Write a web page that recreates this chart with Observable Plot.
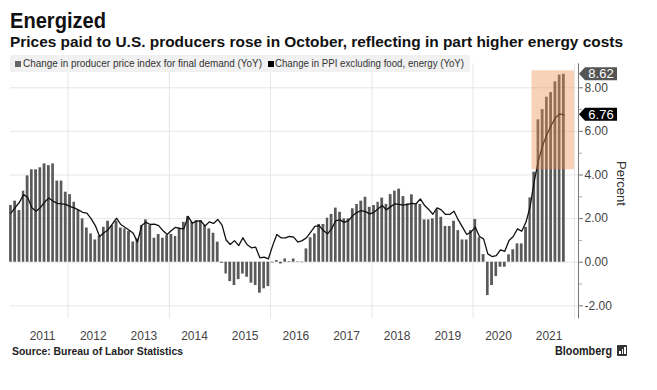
<!DOCTYPE html>
<html>
<head>
<meta charset="utf-8">
<script src="https://cdn.jsdelivr.net/npm/d3@7"></script>
<script src="https://cdn.jsdelivr.net/npm/@observablehq/plot@0.6"></script>
<style>
  body { margin: 0; background: #fff; }
  #wrap { position: relative; width: 657px; height: 390px; overflow: hidden; font-family: "Liberation Sans", Arial, sans-serif; color: #222; }
  #chart { position: absolute; left: 0; top: 0; }
  .t { position: absolute; white-space: nowrap; transform-origin: 0 0; line-height: 1; }
  .sq { position: absolute; width: 6px; height: 6px; }
</style>
</head>
<body>
<div id="wrap">
  <div id="chart"></div>
  <div class="t" id="title" data-w="96" style="left:10px;top:10px;font-weight:bold;font-size:22px;color:#111;">Energized</div>
  <div class="t" id="subtitle" data-w="613" style="left:10px;top:34px;font-weight:bold;font-size:15px;color:#111;">Prices paid to U.S. producers rose in October, reflecting in part higher energy costs</div>
  <div style="position:absolute;left:10px;top:55px;width:460px;height:17px;background:#f1f1f1;"></div>
  <div class="sq" style="left:15px;top:60.5px;background:#666;"></div>
  <div class="t" id="leg1" data-w="239" style="left:23px;top:58px;font-size:11px;color:#333;"></div>
  <div class="sq" style="left:268px;top:60.5px;background:#000;"></div>
  <div class="t" id="leg2" data-w="189" style="left:275px;top:58px;font-size:11px;color:#333;"></div>
  <div class="t" style="left:615px;top:161px;font-size:13px;color:#333;writing-mode:vertical-rl;">Percent</div>
  <div class="t" id="source" data-w="171" style="left:12px;top:345.5px;font-weight:bold;font-size:11px;color:#222;">Source: Bureau of Labor Statistics</div>
  <div class="t" id="bbg" data-w="57" style="left:555px;top:343.5px;font-weight:bold;font-size:13.5px;color:#222;">Bloomberg</div>
  <div style="position:absolute;left:617px;top:345px;width:10px;height:11px;background:#333;border-radius:1px;"></div>
  <div style="position:absolute;left:619px;top:351px;width:1.5px;height:3px;background:#fff;"></div>
  <div style="position:absolute;left:621.5px;top:349px;width:1.5px;height:5px;background:#fff;"></div>
  <div style="position:absolute;left:624px;top:347px;width:1.5px;height:7px;background:#fff;"></div>
</div>
<script>
// ---- Data ----
const seriesNames = ["Change in producer price index for final demand (YoY)", "Change in PPI excluding food, energy (YoY)"];
const firstMonth = "2010-11";   // Nov 2010 .. Oct 2021, monthly
const ppiFinalDemand = [
  2.6, 2.8,
  2.37, 3.26, 3.96, 4.24, 4.24, 4.33, 4.51, 4.43, 4.51, 3.72, 3.72, 3.21,
  3.1, 2.75, 2.37, 1.99, 1.57, 1.3, 1.02, 1.2, 1.6, 1.88, 1.68, 1.88,
  1.57, 1.53, 1.42, 0.93, 1.07, 1.68, 1.94, 1.68, 1.1, 1.27, 1.1, 1.22,
  1.27, 1.18, 1.57, 1.83, 2.1, 1.83, 1.91, 1.91, 1.68, 1.53, 1.33, 0.92,
  -0.05, -0.54, -0.89, -1.07, -0.8, -0.54, -0.69, -0.96, -1.07, -1.42, -1.22, -1.12,
  -0.03, 0.08, -0.08, 0.15, 0.03, 0.15, 0.02, -0.02, 0.61, 1.12, 1.3, 1.73,
  1.73, 2.02, 2.19, 2.48, 2.29, 1.99, 1.99, 2.45, 2.65, 2.8, 2.98, 2.52,
  2.6, 2.75, 2.94, 2.65, 3.1, 3.26, 3.35, 3.01, 2.68, 3.09, 2.65, 2.65,
  1.94, 1.94, 1.99, 2.4, 2.06, 1.64, 1.64, 1.88, 1.45, 1.02, 1.02, 1.45,
  1.96, 1.12, 0.35, -1.53, -1.07, -0.66, -0.23, -0.23, 0.34, 0.57, 0.84, 0.84,
  1.6, 2.95, 4.13, 6.53, 7.0, 7.57, 7.78, 8.27, 8.58, 8.62
];
const ppiCore = [
  2.25, 2.5,
  2.75, 3.1, 2.98, 2.5, 2.34, 2.5, 2.75, 2.95, 2.8, 2.7, 2.68, 2.65,
  2.55, 2.49, 2.4, 2.29, 2.25, 2.0, 1.68, 1.18, 1.35, 1.48, 1.75, 2.02,
  1.73, 1.6, 1.48, 1.33, 0.92, 1.68, 1.83, 1.73, 1.75, 1.68, 1.45, 1.27,
  1.45, 1.6, 1.55, 1.53, 2.1, 1.79, 1.88, 1.9, 1.66, 1.85, 1.78, 1.96,
  1.7, 1.02, 0.81, 0.99, 0.76, 1.12, 0.8, 0.66, 0.69, 0.2, 0.23, 0.15,
  0.76, 1.27, 1.12, 1.12, 1.18, 1.15, 0.92, 0.99, 1.12, 1.38, 1.64, 1.68,
  1.45, 1.3, 1.53, 1.91, 1.94, 1.83, 1.91, 2.14, 2.29, 2.37, 2.32, 2.22,
  2.29, 2.45, 2.6, 2.4, 2.55, 2.68, 2.65, 2.62, 2.65, 2.7, 2.68, 2.9,
  2.6, 2.42, 2.2, 2.49, 2.4, 2.19, 2.19, 2.34, 1.94, 1.61, 1.27, 1.38,
  1.61, 1.18, 1.07, 0.38, 0.26, 0.3, 0.57, 0.5, 1.0, 1.18, 1.53, 1.42,
  1.84, 2.55, 3.7, 4.67, 5.35, 5.86, 6.27, 6.62, 6.8, 6.76
];
const yearLabels = ["2011","2012","2013","2014","2015","2016","2017","2018","2019","2020","2021"];
const gridYears = ["2012","2014","2016","2018","2020","2022"];
const yTicks = [-2, 0, 2, 4, 6, 8];
const yMinorTicks = [-1, 1, 3, 5, 7];
const highlight = {x1: "2021-03-01", x2: "2022-01-01", y1: 4.24, y2: 8.78};

// ---- Build table ----
const start = new Date(firstMonth + "-01T00:00:00Z");
const months = d3.utcMonth.range(start, d3.utcMonth.offset(start, ppiFinalDemand.length));
const data = months.map((m, i) => ({
  start: m,
  end: d3.utcMonth.offset(m, 1),
  mid: new Date((+m + +d3.utcMonth.offset(m, 1)) / 2),
  fd: ppiFinalDemand[i],
  core: ppiCore[i]
}));
const xDomain = [new Date("2010-11-13T00:00:00Z"), new Date("2022-01-30T00:00:00Z")];
const midYears = yearLabels.map(y => new Date(y + "-07-02T00:00:00Z"));
const gridDates = gridYears.map(y => new Date(y + "-01-01T00:00:00Z"));
const last = data[data.length - 1];
const endLabels = [
  {value: last.fd, fill: "#555555"},
  {value: last.core, fill: "#000000"}
];

function endLabelMark(index, scales, values, dimensions) {
  const g = d3.create("svg:g");
  const x0 = dimensions.width - dimensions.marginRight + 1;
  for (const d of endLabels) {
    const y = scales.y(d.value);
    g.append("path")
      .attr("d", `M${x0},${y} L${x0 + 6},${y - 6.5} H${x0 + 38} V${y + 6.5} H${x0 + 6} Z`)
      .attr("fill", d.fill);
    g.append("text")
      .attr("x", x0 + 22).attr("y", y).attr("dy", "0.36em")
      .attr("text-anchor", "middle").attr("fill", "#fff")
      .attr("font-size", 13).attr("font-family", "Liberation Sans, Arial, sans-serif")
      .text(d.value.toFixed(2));
  }
  return g.node();
}

const chart = Plot.plot({
  width: 657,
  height: 390,
  marginLeft: 10,
  marginRight: 79,
  marginTop: 63.3,
  marginBottom: 71.6,
  style: {background: "transparent", fontFamily: "Liberation Sans, Arial, sans-serif", fontSize: "12px", color: "#444"},
  x: {type: "utc", domain: xDomain, axis: null},
  y: {domain: [-2.6, 9.1], axis: null},
  marks: [
    Plot.ruleY(yTicks, {stroke: "#e6e6e6", strokeWidth: 1}),
    Plot.ruleX(gridDates, {stroke: "#e6e6e6", strokeWidth: 1}),
    Plot.rectY(data, {x1: "start", x2: "end", y: "fd", fill: "#5a5a5a", insetLeft: 0.75, insetRight: 0.75}),
    Plot.line(data, {x: "mid", y: "core", stroke: "#111", strokeWidth: 1.3}),
    Plot.rect([highlight], {
      x1: d => new Date(d.x1 + "T00:00:00Z"), x2: d => new Date(d.x2 + "T00:00:00Z"),
      y1: "y1", y2: "y2", fill: "rgb(235,142,80)", fillOpacity: 0.4
    }),
    Plot.ruleX([xDomain[1]], {stroke: "#777", strokeWidth: 1}),
    Plot.axisY(yMinorTicks, {anchor: "right", tickSize: 3, tickFormat: () => "", stroke: "#aaa"}),
    Plot.axisY(yTicks, {anchor: "right", tickSize: 4, tickPadding: 2, tickFormat: d => d.toFixed(2), stroke: "#777", fill: "#444", fontSize: 12, label: null}),
    Plot.axisX(midYears, {anchor: "bottom", tickSize: 0, tickPadding: 13, tickFormat: d => String(d.getUTCFullYear()), fill: "#444", fontSize: 12, label: null}),
    endLabelMark
  ]
});
document.getElementById("chart").appendChild(chart);

document.getElementById("leg1").textContent = seriesNames[0];
document.getElementById("leg2").textContent = seriesNames[1];
document.querySelectorAll(".t[data-w]").forEach(el => {
  const w = el.getBoundingClientRect().width;
  const target = +el.dataset.w;
  if (w > 0) el.style.transform = `scaleX(${target / w})`;
});
</script>
</body>
</html>
